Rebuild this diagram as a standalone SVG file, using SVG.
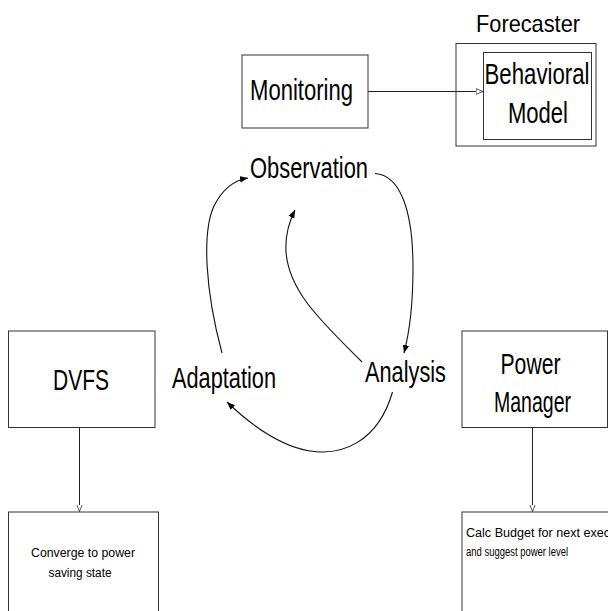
<svg xmlns="http://www.w3.org/2000/svg" width="608" height="611" viewBox="0 0 608 611">
  <defs>
    <style>
      .box { fill: #ffffff; stroke: #333333; stroke-width: 1; }
      .lbl { font-family: "Liberation Sans", Arial, sans-serif; fill: #000000; }
      .big { font-size: 30px; }
      .small { font-size: 12.5px; }
      .link { fill: none; stroke: #222222; stroke-width: 1; }
      .cycle { fill: none; stroke: #111111; stroke-width: 1.1; }
    </style>
    <marker id="openHead" viewBox="0 0 10 10" refX="10" refY="5" markerWidth="7" markerHeight="7" markerUnits="userSpaceOnUse" orient="auto">
      <path d="M0,1 L10,5 L0,9 Z" fill="#ffffff" stroke="#333333" stroke-width="1.2"/>
    </marker>
    <marker id="solidHead" viewBox="0 0 10 10" refX="10" refY="5" markerWidth="8" markerHeight="8" markerUnits="userSpaceOnUse" orient="auto">
      <path d="M0,1 L10,5 L0,9 Z" fill="#000000"/>
    </marker>
  </defs>
  <rect width="608" height="611" fill="#ffffff"/>

  <!-- Nodes -->
  <g id="monitoring">
    <rect class="box" x="242" y="55" width="126" height="73"/>
    <text class="lbl big" x="250" y="99.5" textLength="103" lengthAdjust="spacingAndGlyphs">Monitoring</text>
  </g>

  <g id="forecaster">
    <text class="lbl" x="476" y="31.5" font-size="24" textLength="104" lengthAdjust="spacingAndGlyphs">Forecaster</text>
    <rect class="box" x="456" y="43.5" width="140" height="102.5"/>
  </g>

  <g id="behavioral-model">
    <rect class="box" x="483.5" y="52.5" width="108" height="87"/>
    <text class="lbl big" x="484.5" y="83.5" textLength="105" lengthAdjust="spacingAndGlyphs">Behavioral</text>
    <text class="lbl big" x="508" y="123" textLength="60" lengthAdjust="spacingAndGlyphs">Model</text>
  </g>

  <g id="observation">
    <text class="lbl big" x="250" y="178" textLength="118" lengthAdjust="spacingAndGlyphs">Observation</text>
  </g>

  <g id="adaptation">
    <text class="lbl big" x="172" y="388" textLength="104" lengthAdjust="spacingAndGlyphs">Adaptation</text>
  </g>

  <g id="analysis">
    <text class="lbl big" x="365" y="382" textLength="81" lengthAdjust="spacingAndGlyphs">Analysis</text>
  </g>

  <g id="dvfs">
    <rect class="box" x="8.5" y="331" width="146.5" height="96.5"/>
    <text class="lbl big" x="53" y="389.5" textLength="56" lengthAdjust="spacingAndGlyphs">DVFS</text>
  </g>

  <g id="power-manager">
    <rect class="box" x="462" y="331" width="145.5" height="96.5"/>
    <text class="lbl big" x="500.5" y="373.5" textLength="60" lengthAdjust="spacingAndGlyphs">Power</text>
    <text class="lbl big" x="494" y="411.5" textLength="77" lengthAdjust="spacingAndGlyphs">Manager</text>
  </g>

  <g id="converge">
    <rect class="box" x="8.5" y="512" width="150" height="120"/>
    <text class="lbl small" x="31" y="556.5" textLength="104" lengthAdjust="spacingAndGlyphs">Converge to power</text>
    <text class="lbl small" x="48.5" y="576.5" textLength="63" lengthAdjust="spacingAndGlyphs">saving state</text>
  </g>

  <g id="budget">
    <rect class="box" x="462" y="512" width="200" height="120"/>
    <text class="lbl small" x="466" y="536.5" textLength="144" lengthAdjust="spacingAndGlyphs">Calc Budget for next exec</text>
    <text class="lbl small" x="466" y="556" textLength="102" lengthAdjust="spacingAndGlyphs">and suggest power level</text>
  </g>

  <!-- Connectors -->
  <g id="connectors">
    <path class="link" d="M368,91.5 L483,91.5" marker-end="url(#openHead)"/>
    <path class="link" d="M79.5,427.5 L79.5,511.5" marker-end="url(#openHead)"/>
    <path class="link" d="M532.5,427.5 L532.5,511.5" marker-end="url(#openHead)"/>

    <!-- adaptation -> observation -->
    <path class="cycle" d="M222,353 C205,290 202,232 214,206 C223,188 235,180 248,178" marker-end="url(#solidHead)"/>
    <!-- observation -> analysis -->
    <path class="cycle" d="M375,173.5 C400,175 413,210 413,268 C413,310 409,334 404,353" marker-end="url(#solidHead)"/>
    <!-- analysis -> observation -->
    <path class="cycle" d="M362,362 C322,322 289,292 286,252 C285,236 289,222 295,210" marker-end="url(#solidHead)"/>
    <!-- analysis -> adaptation -->
    <path class="cycle" d="M392.5,392 C378,442 342,456 310,451 C280,446 252,426 227,402" marker-end="url(#solidHead)"/>
  </g>
</svg>
